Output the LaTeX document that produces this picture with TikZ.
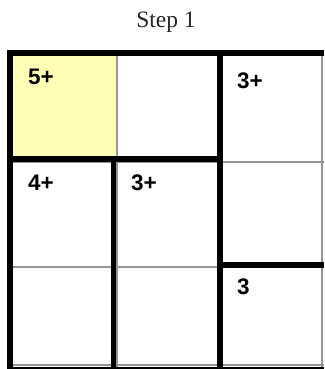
\documentclass[tikz,border=0pt]{standalone}
\usepackage{fontspec}
\usetikzlibrary{positioning}
\newfontfamily\cluefont{Liberation Sans}
\newfontfamily\titlefont{Liberation Serif}
\definecolor{cagefill}{RGB}{255,255,181}
\definecolor{gridgray}{RGB}{150,150,150}

\begin{document}
\begin{tikzpicture}[
    x=1pt, y=-1pt,
    gridline/.style={draw=gridgray, line width=1.2pt},
    cage/.style={draw=black, line width=5.5pt},
    clue/.style={anchor=base west, inner sep=0pt, font=\cluefont\fontsize{22.5}{22.5}\selectfont\bfseries},
    title/.style={anchor=base, inner sep=0pt, text=black!85, font=\titlefont\fontsize{23.5}{23.5}\selectfont}
]
    \useasboundingbox (0,0) rectangle (324,369);

    % title
    \node[title] (steplabel) at (166,28) {Step 1};

    % shaded cell
    \fill[cagefill] (10,53) rectangle (117,159);

    % thin grid
    \draw[gridline] (117,53) -- (117,369);
    \draw[gridline] (322,53) -- (322,369);
    \draw[gridline] (10,162) -- (324,162);
    \draw[gridline] (10,267) -- (324,267);
    \draw[gridline] (10,365) -- (324,365);

    % cage borders
    \draw[cage] (7,53) -- (324,53);
    \draw[cage] (10,50) -- (10,369);
    \draw[cage] (7,369.5) -- (324,369.5);
    \draw[cage] (10,159) -- (222.75,159);
    \draw[cage] (220,50.25) -- (220,369);
    \draw[cage] (113.5,156.25) -- (113.5,369);
    \draw[cage] (217.25,265) -- (324,265);

    % clues
    \node[clue] (clueA) at (28,84) {5+};
    \node[clue] (clueB) at (237,88) {3+};
    \node[clue] (clueC) at (28,190) {4+};
    \node[clue] (clueD) at (131,190) {3+};
    \node[clue] (clueE) at (237,294) {3};
\end{tikzpicture}
\end{document}
